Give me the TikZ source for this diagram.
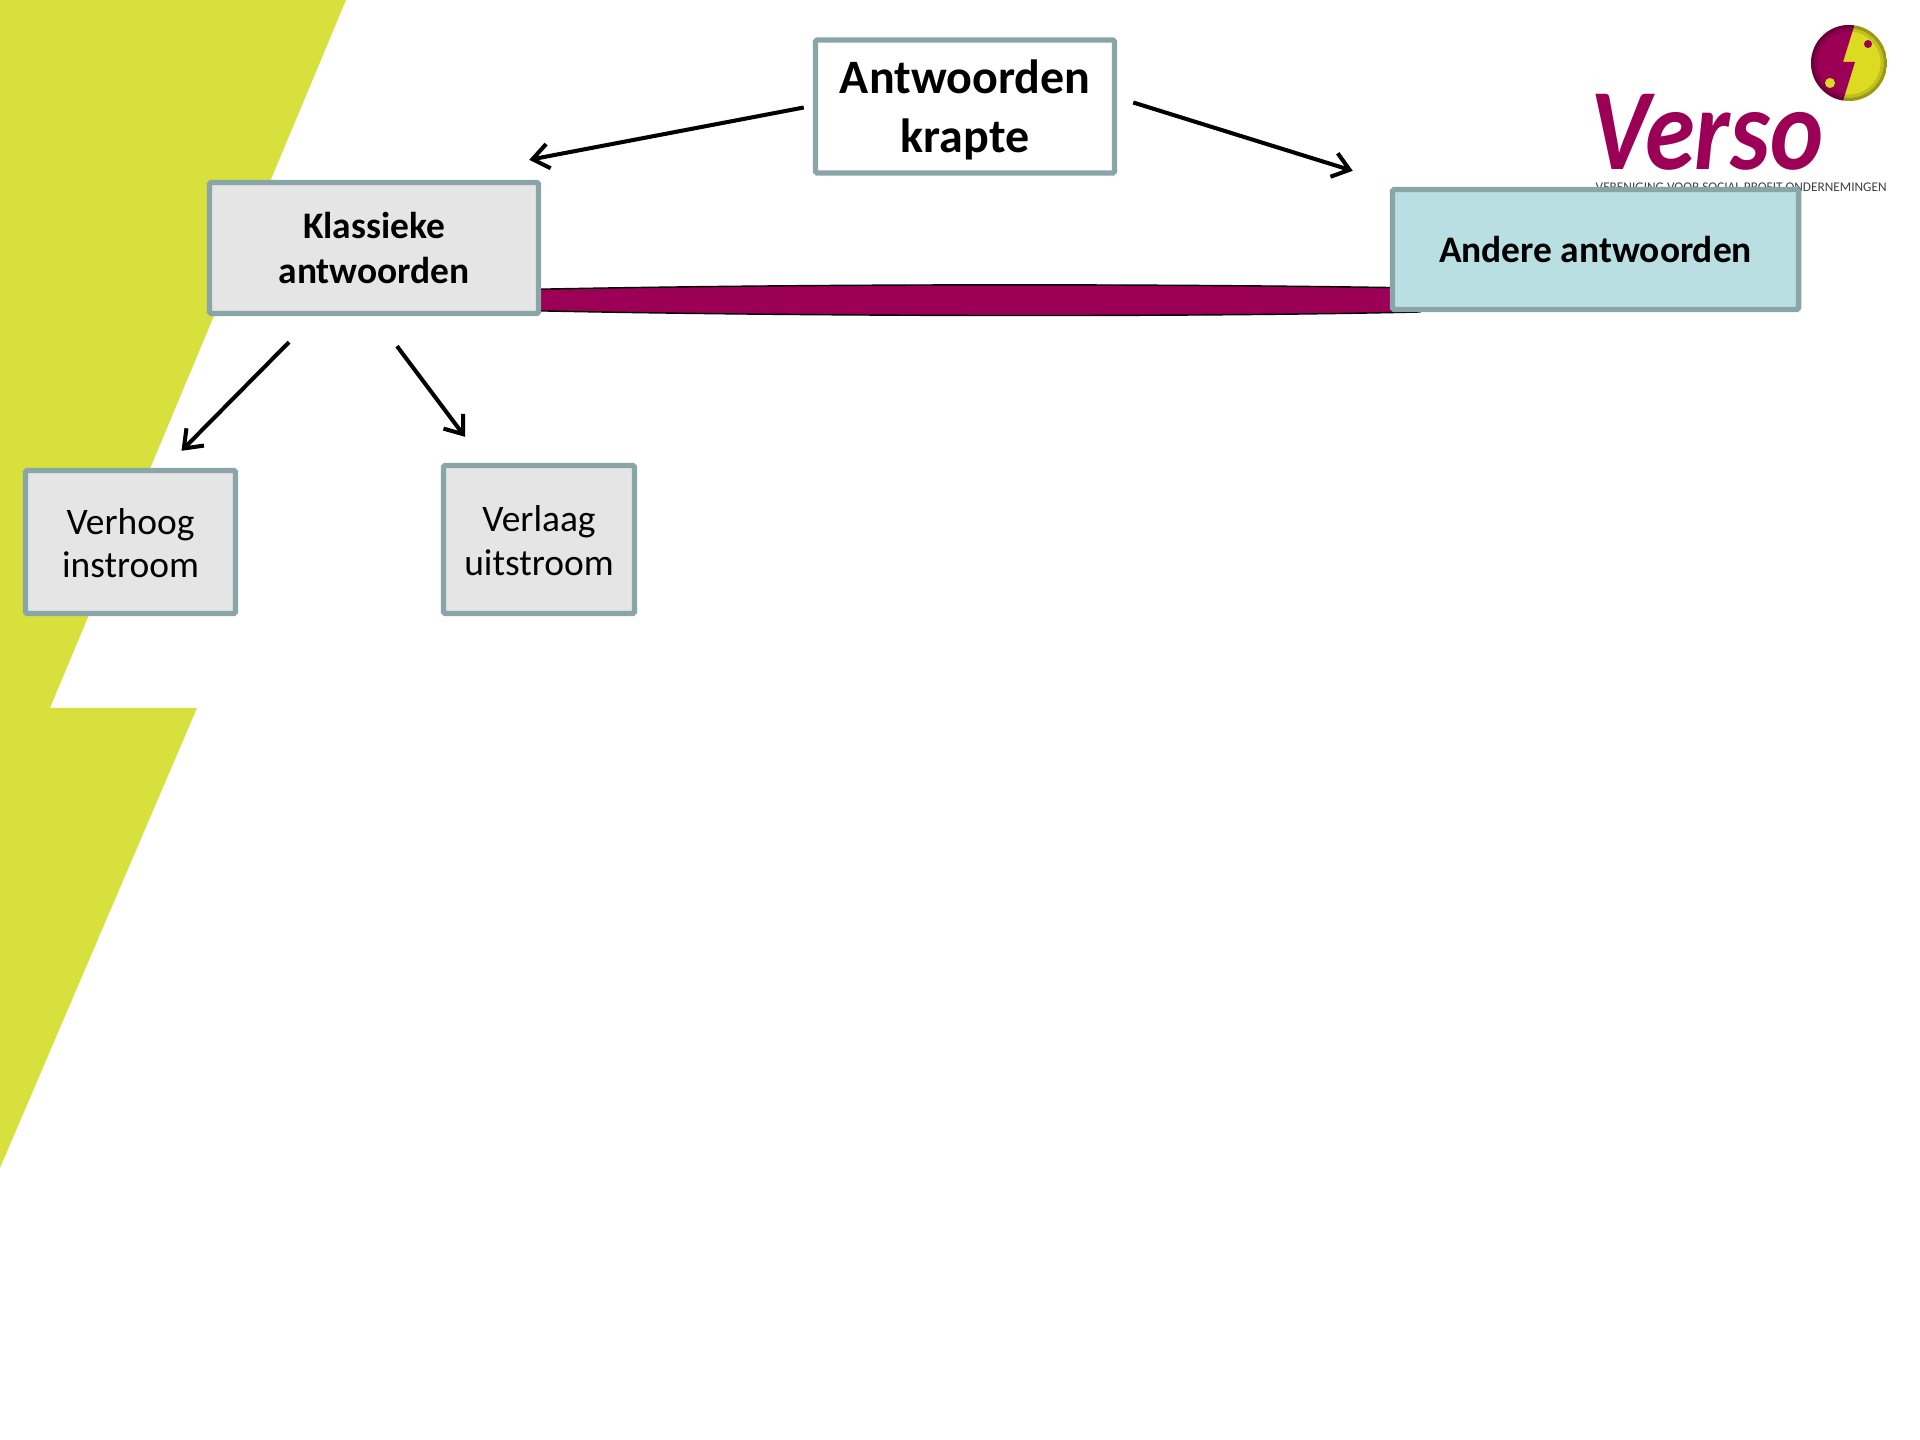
\documentclass[tikz,border=0pt]{standalone}
\usepackage{fontspec}
\setmainfont{Carlito}
\usetikzlibrary{arrows.meta}
\definecolor{boltyellow}{HTML}{D8E03E}
\definecolor{ballyellow}{HTML}{DDDA22}
\definecolor{versopurple}{HTML}{9B0056}
\definecolor{boxborder}{HTML}{8AA5A8}
\definecolor{boxgray}{HTML}{E5E5E5}
\definecolor{boxteal}{HTML}{B9DFE2}
\tikzset{
  box/.style={draw=boxborder,line width=1.5pt,rounded corners=0.5pt,align=center,inner sep=0pt,text=black},
  answer/.style={->,>={Straight Barb[length=4.6pt,width=7pt,line width=1.15pt]},line width=1.15pt,black},
}
\begin{document}
\begin{tikzpicture}[x=0.01cm,y=-0.01cm]
    \useasboundingbox (0,0) rectangle (1920,1440);
    \fill[white] (0,0) rectangle (1920,1440);

    % Yellow bolt
    \fill[boltyellow] (0,0) -- (346,0) -- (50,708) -- (197,708) -- (0,1168) -- cycle;

    % Verso logo
    \begin{scope}
      \clip (1849,63) circle (38);
      \fill[ballyellow] (1811,25) rectangle (1887,101);
      \fill[versopurple] (1811,20) -- (1856,20) -- (1843,62) -- (1855,62) -- (1842,104) -- (1811,104) -- cycle;
      \draw[black,opacity=0.3,line width=1pt] (1849,63) circle (36.5);
      \draw[black,opacity=0.12,line width=0.8pt] (1849,63) circle (33);
    \end{scope}
    \fill[versopurple] (1868,44) circle (4);
    \fill[ballyellow] (1830,83) circle (5);
    \node[anchor=base west,inner sep=0pt,text=versopurple,xscale=0.87,transform shape] (verso) at (1590,170) {\fontsize{33}{33}\selectfont\bfseries\itshape Verso};
    \node[anchor=base west,inner sep=0pt,text=black!75] (tagline) at (1595,192) {\fontsize{3.78}{5}\selectfont VERENIGING VOOR SOCIAL PROFIT ONDERNEMINGEN};

    % Bar between the two answers
    \coordinate (barleft) at (500,300);
    \coordinate (barright) at (1420,312);
    \draw[black,line width=0.4pt,fill=versopurple] (barleft) -- (500,290) .. controls (800,283.5) and (1150,283.5) .. (1420,288)
      -- (barright) .. controls (1200,317) and (800,317) .. (500,310) -- cycle;

    % Boxes
    \node[box,fill=white,minimum width=2.99cm,minimum height=1.33cm,font=\fontsize{13.65}{16.7}\selectfont\bfseries] (krapte) at (965,106.5) {\rule{0pt}{11.7pt}Antwoorden\\krapte};
    \node[box,fill=boxgray,minimum width=3.29cm,minimum height=1.31cm,font=\fontsize{10.65}{12.6}\selectfont\bfseries] (klassieke) at (374,248) {Klassieke\\antwoorden};
    \node[box,fill=boxteal,minimum width=4.06cm,minimum height=1.2cm,font=\fontsize{10.65}{12.6}\selectfont\bfseries] (andere) at (1595.5,249.5) {Andere antwoorden};
    \node[box,fill=boxgray,minimum width=2.10cm,minimum height=1.43cm,font=\fontsize{10.65}{12.4}\selectfont] (verhoog) at (130.5,542) {\rule{0pt}{8pt}Verhoog\\instroom};
    \node[box,fill=boxgray,minimum width=1.91cm,minimum height=1.48cm,font=\fontsize{10.65}{12.6}\selectfont] (verlaag) at (539,539.5) {\rule{0pt}{8pt}Verlaag\\uitstroom};

    % Arrows
    \draw[answer] ([shift={(-9,1)}]krapte.west) -- ([shift={(-12,-20)}]klassieke.north east);
    \draw[answer] ([shift={(16,-4)}]krapte.east) -- ([shift={(-37,-16)}]andere.north west);
    \draw[answer] ([shift={(-85,26)}]klassieke.south) -- ([shift={(51,-17)}]verhoog.north);
    \draw[answer] ([shift={(23,30)}]klassieke.south) -- ([shift={(-74,-26)}]verlaag.north);
\end{tikzpicture}
\end{document}
